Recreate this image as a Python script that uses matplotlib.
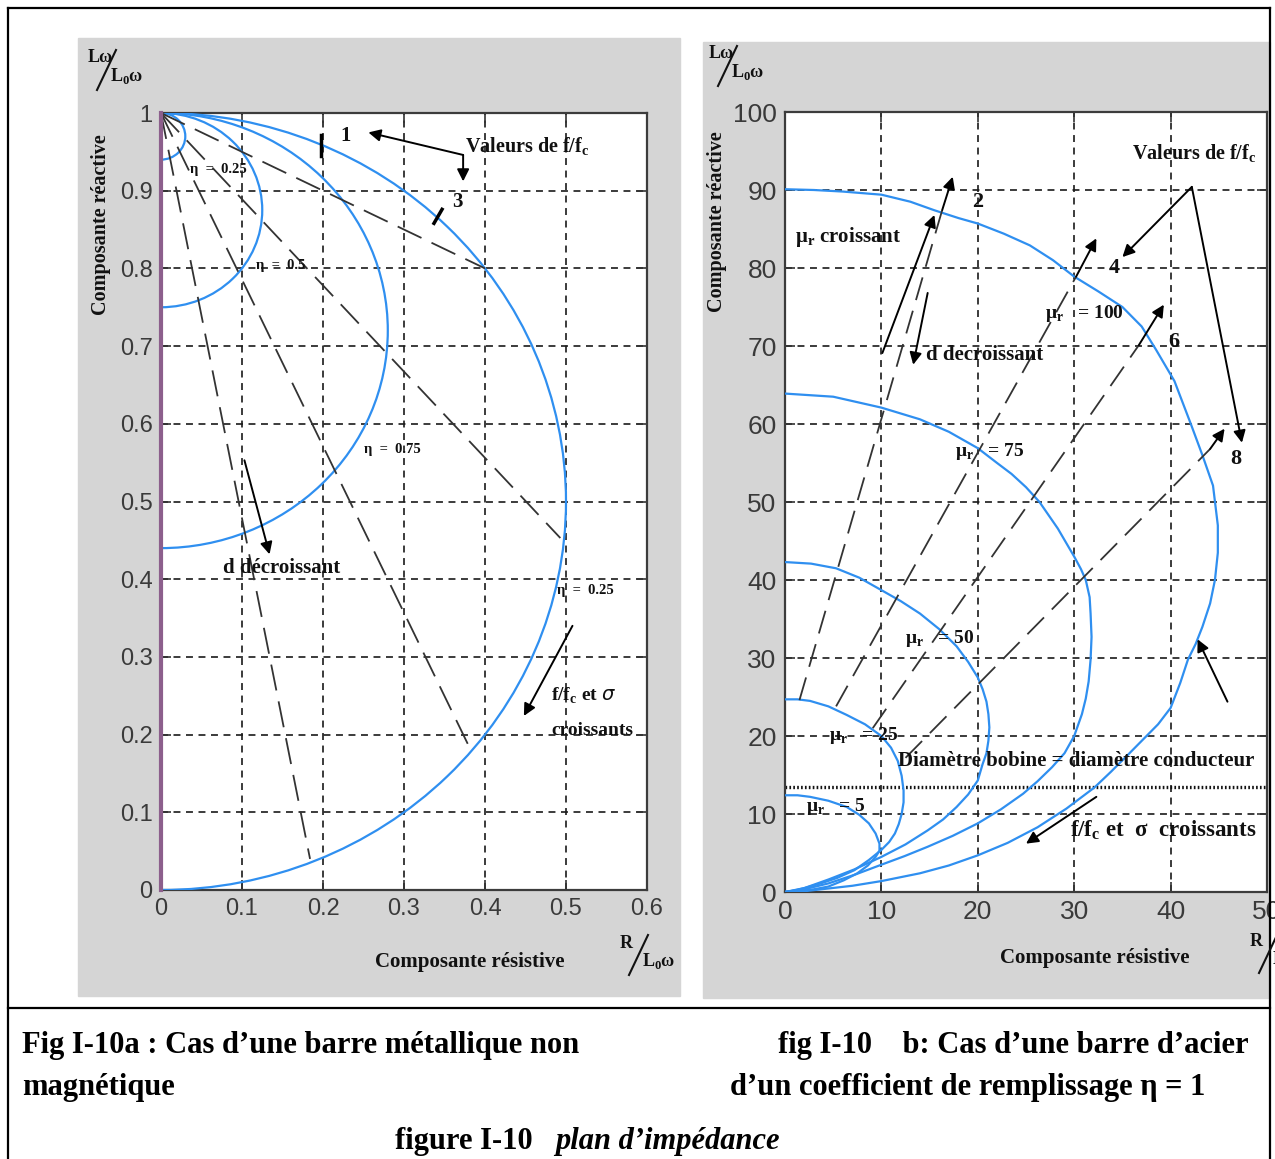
import numpy as np
import matplotlib.pyplot as plt
from matplotlib.patches import Arc, Rectangle
from matplotlib.lines import Line2D

plt.rcParams['lines.scale_dashes'] = False

W, H = 1275, 1159
SERIF = 'Liberation Serif'
SANS = 'Liberation Sans'

# --- fig a : non magnetic bar, circles for several eta values
eta_labels = ['η = 0.25', 'η = 0.5', 'η = 0.75', 'η = 0.25']
arc_centre = [0.5, 0.72, 0.875, 0.97]
arc_radius = [0.5, 0.28, 0.125, 0.03]
# constant f/fc lines, from (0, 1) to the outer circle
fc_end_x = [0.40, 0.493, 0.382, 0.184]
fc_end_y = [0.80, 0.453, 0.181, 0.040]
a_xticks = [0, 0.1, 0.2, 0.3, 0.4, 0.5, 0.6]
a_yticks = [0, 0.1, 0.2, 0.3, 0.4, 0.5, 0.6, 0.7, 0.8, 0.9, 1]

# --- fig b : steel bar, eta = 1, several mu_r values
mu_r = [5, 25, 50, 75, 100]
curve_x = {
    5: [0, 1.3, 2.6, 4.5, 6.4, 7.7, 8.7, 9.4, 9.8, 9.8, 9.4, 8.6, 7.5, 6.1, 4.5, 3.0, 1.5, 0],
    25: [0, 1.3, 2.6, 4.5, 6.4, 8.3, 10, 11, 11.7, 12.1, 12.3, 12.3, 12.1, 11.8, 11.4, 10.8,
         10, 8.7, 7.2, 5.4, 3.7, 2.0, 1.0, 0],
    50: [0, 2.7, 5.3, 7.7, 10, 12, 14, 16, 17.8, 19, 20, 20.5, 20.9, 21.1, 21.2, 21.1, 20.9,
         20.5, 20, 19, 17.8, 16.4, 14.8, 12.5, 10, 7.2, 4.5, 2.0, 0],
    75: [0, 5, 10, 14, 17, 20, 22, 23.5, 25, 26.4, 28.3, 30, 30.7, 31.2, 31.6, 31.7, 31.8,
         31.7, 31.5, 31.2, 30.8, 30, 29, 27.7, 26.2, 24.7, 22.4, 20, 17.4, 14.8, 12.4, 10,
         7.2, 4.5, 2.0, 0],
    100: [0, 3, 6, 10, 13, 15.5, 18, 20, 22.7, 25.4, 27.8, 30, 32.5, 35, 37, 38.5, 40.4,
          42.1, 43.3, 44.4, 44.9, 44.9, 44.6, 44.1, 43.3, 42.6, 41.8, 41.0, 40, 38.7, 37.1,
          35.5, 33.8, 32.1, 29.2, 26.2, 23.1, 20, 17, 14, 10, 7, 4.5, 2.0, 0],
}
curve_y = {
    5: [12.4, 12.4, 12.2, 11.7, 10.9, 9.9, 8.8, 7.5, 6.2, 5.3, 4.5, 3.4, 2.4, 1.5, 0.7, 0.35,
        0.1, 0],
    25: [24.7, 24.7, 24.5, 23.8, 22.7, 21.5, 20, 18.5, 16.8, 14.9, 13, 11.5, 10, 8.7, 7.5,
         6.4, 5.4, 4.1, 2.8, 1.8, 1.1, 0.5, 0.2, 0],
    50: [42.3, 42.1, 41.5, 40.3, 38.7, 37.3, 35.7, 33.7, 31.5, 29.5, 27.5, 26, 24.4, 22.8,
         21.1, 19.4, 17.8, 16.4, 14.3, 12.5, 10.9, 9.3, 7.9, 6.1, 4.5, 2.9, 1.6, 0.5, 0],
    75: [63.9, 63.5, 62.1, 60.6, 59, 56.9, 55, 53.6, 51.9, 50, 46.6, 43, 41.4, 40, 37.8, 35.7,
         32.7, 29.8, 27, 24.8, 22.8, 20, 17.8, 16, 14.2, 12.6, 10.6, 8.8, 7.2, 5.8, 4.6, 3.5,
         2.2, 1.1, 0.35, 0],
    100: [90.1, 90.0, 89.8, 89.4, 88.5, 87.4, 86.4, 85.7, 84.4, 82.9, 81.0, 78.9, 77.0, 75.0,
          72.5, 69.5, 65.5, 60, 56, 52.1, 47, 43.5, 40, 37, 34, 31.8, 29.8, 26.8, 23.6, 21.5,
          19.5, 17.5, 15.4, 13.4, 10.7, 8.3, 6.3, 4.7, 3.4, 2.4, 1.4, 0.8, 0.45, 0.1, 0],
}
mu_label_x = [2.2, 4.6, 12.4, 17.6, 27.0]
mu_label_y = [11.0, 20.0, 32.5, 56.5, 74.2]
# f/fc lines : start, crossing of mu_r = 100, arrow tip
fc_values = ['2', '4', '6', '8']
fc_start = [(1.5, 24.6), (5.3, 23.8), (9.1, 21.0), (12.5, 17.2)]
fc_cross = [(16.3, 87.4), (30.2, 78.9), (36.7, 70.1), (44.1, 56.8)]
fc_tip = [(17.4, 91.7), (32.3, 83.8), (39.3, 75.3), (45.6, 59.4)]
fc_label = [(19.4, 88.5), (33.6, 80.0), (39.8, 70.5), (46.2, 55.5)]
diam_level = 13.5
b_xticks = [0, 10, 20, 30, 40, 50]
b_yticks = [0, 10, 20, 30, 40, 50, 60, 70, 80, 90, 100]

BLUE = '#2f8ff0'
GRIDC = '#1a1a1a'


def fx(px):
    return px / W


def fy(py):
    return 1 - py / H


def style_axes(ax, xticks, yticks, xlim, ylim, fmt, size):
    ax.set_xlim(xlim)
    ax.set_ylim(ylim)
    ax.set_xticks(xticks)
    ax.set_yticks(yticks)
    ax.set_xticklabels([fmt(v) for v in xticks])
    ax.set_yticklabels([fmt(v) for v in yticks])
    ax.tick_params(direction='in', length=7, width=1.2, labelsize=size, colors='#333333',
                   pad=6, top=True, right=True)
    for lab in ax.get_xticklabels() + ax.get_yticklabels():
        lab.set_fontfamily(SANS)
        lab.set_color('#3a3a3a')
    ax.grid(True, color=GRIDC, linestyle=(0, (5, 4)), linewidth=1.2)
    for s in ax.spines.values():
        s.set_color('#3c3c3c')
        s.set_linewidth(1.6)
    ax.set_facecolor('white')


def fmt_a(v):
    if v == 0 or v == 1:
        return '%d' % v
    return ('%.1f' % v)


def fmt_b(v):
    return '%d' % v


fig = plt.figure(figsize=(W / 100, H / 100), dpi=100)

# grey panels behind the two plots
fig.add_artist(Rectangle((fx(78), fy(996)), fx(602), 958 / H, color='#d5d5d5', zorder=0))
fig.add_artist(Rectangle((fx(703), fy(998)), fx(567), 956 / H, color='#d5d5d5', zorder=0))

# frame around the figure and caption
frame = dict(color='black', lw=1.6, transform=fig.transFigure)
fig.add_artist(Line2D([fx(8), fx(8)], [fy(8), fy(1159)], **frame))
fig.add_artist(Line2D([fx(1270), fx(1270)], [fy(8), fy(1159)], **frame))
fig.add_artist(Line2D([fx(8), fx(1270)], [fy(8), fy(8)], **frame))
fig.add_artist(Line2D([fx(8), fx(1270)], [fy(1008), fy(1008)], **frame))

tb = dict(family=SERIF, fontweight='bold', color='#111111')
arr = dict(arrowstyle='-|>', color='k', lw=1.4, mutation_scale=18, shrinkA=0, shrinkB=0)

# ---------------- fig a
axa = fig.add_axes([fx(161), fy(890), fx(647 - 161), (890 - 113) / H])
style_axes(axa, a_xticks, a_yticks, (0, 0.6), (0, 1), fmt_a, 17)
axa.plot([0, 0], [0, 1], color='#8c5f8c', lw=3, zorder=4, clip_on=False)
for c, r in zip(arc_centre, arc_radius):
    axa.add_patch(Arc((0, c), 2 * r, 2 * r, theta1=-90, theta2=90, color=BLUE, lw=1.6, zorder=3))
for ex, ey in zip(fc_end_x, fc_end_y):
    axa.plot([0, ex], [1, ey], color='#333333', lw=1.3, dashes=(19, 8), zorder=3)

# f/fc marks on the outer circle
axa.plot([0.198, 0.198], [0.945, 0.972], color='k', lw=2.5, zorder=4)
axa.plot([0.337, 0.347], [0.858, 0.876], color='k', lw=2.5, zorder=4)
axa.text(0.228, 0.97, '1', fontsize=15, ha='center', va='center', **tb)
axa.text(0.366, 0.886, '3', fontsize=15, ha='center', va='center', **tb)
axa.text(0.375, 0.957, 'Valeurs de f/f$_\\mathregular{c}$', fontsize=14.5, ha='left', va='center', **tb)
axa.annotate('', xy=(0.256, 0.975), xytext=(0.373, 0.946), arrowprops=arr)
axa.annotate('', xy=(0.373, 0.912), xytext=(0.373, 0.946), arrowprops=arr)

eta_pos = [(0.036, 0.927), (0.117, 0.804), (0.25, 0.567), (0.489, 0.385)]
for lab, (tx, ty) in zip(eta_labels, eta_pos):
    axa.text(tx, ty, lab.replace(' = ', '  =  '), fontsize=10.5, ha='left', va='center', **tb)

axa.text(0.077, 0.415, 'd décroissant', fontsize=15, ha='left', va='center', **tb)
axa.annotate('', xy=(0.134, 0.432), xytext=(0.103, 0.553), arrowprops=arr)
axa.annotate('', xy=(0.448, 0.224), xytext=(0.508, 0.34), arrowprops=arr)
axa.text(0.482, 0.25, 'f/f$_\\mathregular{c}$ et $\\sigma$', fontsize=14, ha='left', va='center', **tb)
axa.text(0.482, 0.205, 'croissants', fontsize=14, ha='left', va='center', **tb)

# ---------------- fig b
axb = fig.add_axes([fx(785), fy(892), fx(1267 - 785), (892 - 112) / H])
style_axes(axb, b_xticks, b_yticks, (0, 50), (0, 100), fmt_b, 19)
for m in mu_r:
    axb.plot(curve_x[m], curve_y[m], color=BLUE, lw=1.6, zorder=3)
for (sx, sy), (cx, cy), (tx, ty) in zip(fc_start, fc_cross, fc_tip):
    axb.plot([sx, cx], [sy, cy], color='#333333', lw=1.3, dashes=(17, 8), zorder=3)
    axb.annotate('', xy=(tx, ty), xytext=(cx, cy), arrowprops=arr)
for v, (lx, ly) in zip(fc_values, fc_label):
    axb.text(lx, ly, v, fontsize=16, ha='left', va='center', **tb)
for m, lx, ly in zip(mu_r, mu_label_x, mu_label_y):
    axb.text(lx, ly, 'μ$_\\mathregular{r}$   = %d' % m, fontsize=14, ha='left', va='center', **tb)

axb.axhline(diam_level, color='#111111', lw=2.4, linestyle=(0, (1.2, 1.6)), zorder=2)
axb.text(11.7, 16.8, 'Diamètre bobine = diamètre conducteur', fontsize=15,
         ha='left', va='center', **tb)
axb.text(29.6, 7.9, 'f/f$_\\mathregular{c}$ et  σ  croissants', fontsize=16.5,
         ha='left', va='center', **tb)
axb.annotate('', xy=(25.0, 6.2), xytext=(32.3, 12.2), arrowprops=arr)
axb.annotate('', xy=(42.8, 32.4), xytext=(45.9, 24.4), arrowprops=arr)

axb.text(1.0, 84.0, 'μ$_\\mathregular{r}$ croissant', fontsize=15, ha='left', va='center', **tb)
axb.annotate('', xy=(15.5, 86.8), xytext=(10.1, 69.1), arrowprops=arr)
axb.text(14.6, 68.8, 'd decroissant', fontsize=15, ha='left', va='center', **tb)
axb.annotate('', xy=(13.3, 67.6), xytext=(14.8, 76.8), arrowprops=arr)

axb.text(36.0, 94.6, 'Valeurs de f/f$_\\mathregular{c}$', fontsize=14.5, ha='left', va='center', **tb)
axb.annotate('', xy=(35.0, 81.4), xytext=(42.2, 90.4), arrowprops=arr)
axb.annotate('', xy=(47.4, 57.6), xytext=(42.2, 90.4), arrowprops=arr)


# ---------------- axis titles
def ratio_label(x0, y0, top, bottom):
    fig.text(fx(x0), fy(y0), top, fontsize=13, ha='left', va='center', **tb)
    fig.text(fx(x0 + 22), fy(y0 + 18), bottom, fontsize=13, ha='left', va='center', **tb)
    fig.add_artist(Line2D([fx(x0 + 9), fx(x0 + 28)], [fy(y0 + 32), fy(y0 - 8)],
                          color='#111111', lw=1.5, transform=fig.transFigure))


ratio_label(88, 58, 'Lω', 'L$_\\mathregular{0}$ω')
ratio_label(709, 54, 'Lω', 'L$_\\mathregular{0}$ω')
ratio_label(620, 943, 'R', 'L$_\\mathregular{0}$ω')
ratio_label(1250, 941, 'R', 'L$_\\mathregular{0}$ω')

fig.text(fx(101), fy(225), 'Composante réactive', rotation=90, fontsize=14.5,
         ha='center', va='center', **tb)
fig.text(fx(717), fy(222), 'Composante réactive', rotation=90, fontsize=14.5,
         ha='center', va='center', **tb)
fig.text(fx(470), fy(962), 'Composante résistive', fontsize=15, ha='center', va='center', **tb)
fig.text(fx(1095), fy(958), 'Composante résistive', fontsize=15, ha='center', va='center', **tb)

# ---------------- caption
cap = dict(family=SERIF, fontweight='bold', color='black', fontsize=22, va='center')
fig.text(fx(22), fy(1045), 'Fig I-10a : Cas d’une barre métallique non', ha='left', **cap)
fig.text(fx(22), fy(1087), 'magnétique', ha='left', **cap)
fig.text(fx(778), fy(1045), 'fig I-10    b: Cas d’une barre d’acier', ha='left', **cap)
fig.text(fx(730), fy(1087), 'd’un coefficient de remplissage η = 1', ha='left', **cap)
fig.text(fx(395), fy(1142), 'figure I-10', ha='left', **cap)
fig.text(fx(555), fy(1142), 'plan d’impédance', ha='left', style='italic', **cap)

fig.savefig('out.png', dpi=100, facecolor='white')
